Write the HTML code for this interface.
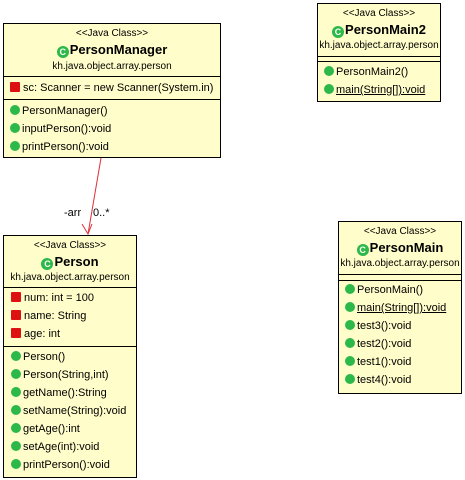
<!DOCTYPE html>
<html><head><meta charset="utf-8"><style>
body{margin:0;width:465px;height:480px;background:#fff;position:relative;overflow:hidden;font-family:"Liberation Sans",Arial,sans-serif;font-size:11px;color:#000}
.box{position:absolute;background:#fffdc9;border:1px solid #000;box-sizing:border-box}
.hr{position:absolute;left:0;right:0;border-top:1px solid #000}
.t{position:absolute;white-space:nowrap;line-height:13px}
.c{left:0;right:0;text-align:center}
.sm{font-size:10px}
.nm{font-weight:bold;font-size:13px;line-height:15px}
.ci{display:inline-block;width:12px;height:12px;border-radius:50%;background:#2db84a;color:#fff;font-size:9px;line-height:12px;text-align:center;vertical-align:-1px;margin-right:1px;font-weight:bold}
.g{display:inline-block;width:10px;height:10px;border-radius:50%;background:#2db84a;vertical-align:-1px;margin-right:2px}
.r{display:inline-block;width:10px;height:10px;background:#d11;vertical-align:-1px;margin-right:3px;border-radius:1px}
.u{text-decoration:underline}
</style></head><body>

<!-- PersonManager -->
<div class="box" style="left:3px;top:23px;width:218px;height:135px">
 <div class="t c sm" style="top:3px">&lt;&lt;Java Class&gt;&gt;</div>
 <div class="t c nm" style="top:18px"><span class="ci">C</span>PersonManager</div>
 <div class="t c sm" style="top:36px">kh.java.object.array.person</div>
 <div class="hr" style="top:52px"></div>
 <div class="t" style="left:6px;top:58px;font-size:11px"><span class="r"></span>sc: Scanner = new Scanner(System.in)</div>
 <div class="hr" style="top:75px"></div>
 <div class="t" style="left:6px;top:81px"><span class="g"></span>PersonManager()</div>
 <div class="t" style="left:6px;top:99px"><span class="g"></span>inputPerson():void</div>
 <div class="t" style="left:6px;top:117px"><span class="g"></span>printPerson():void</div>
</div>

<!-- Person -->
<div class="box" style="left:3px;top:235px;width:134px;height:243px">
 <div class="t c sm" style="top:3px">&lt;&lt;Java Class&gt;&gt;</div>
 <div class="t c nm" style="top:18px"><span class="ci">C</span>Person</div>
 <div class="t c sm" style="top:35px">kh.java.object.array.person</div>
 <div class="hr" style="top:51px"></div>
 <div class="t" style="left:7px;top:56px"><span class="r"></span>num: int = 100</div>
 <div class="t" style="left:7px;top:74px"><span class="r"></span>name: String</div>
 <div class="t" style="left:7px;top:92px"><span class="r"></span>age: int</div>
 <div class="hr" style="top:110px"></div>
 <div class="t" style="left:7px;top:115px"><span class="g"></span>Person()</div>
 <div class="t" style="left:7px;top:133px"><span class="g"></span>Person(String,int)</div>
 <div class="t" style="left:7px;top:151px"><span class="g"></span>getName():String</div>
 <div class="t" style="left:7px;top:169px"><span class="g"></span>setName(String):void</div>
 <div class="t" style="left:7px;top:187px"><span class="g"></span>getAge():int</div>
 <div class="t" style="left:7px;top:205px"><span class="g"></span>setAge(int):void</div>
 <div class="t" style="left:7px;top:223px"><span class="g"></span>printPerson():void</div>
</div>

<!-- PersonMain2 -->
<div class="box" style="left:317px;top:3px;width:124px;height:99px">
 <div class="t c sm" style="top:3px">&lt;&lt;Java Class&gt;&gt;</div>
 <div class="t c nm" style="top:18px"><span class="ci">C</span>PersonMain2</div>
 <div class="t c sm" style="top:35px">kh.java.object.array.person</div>
 <div class="hr" style="top:52px"></div>
 <div class="hr" style="top:57px"></div>
 <div class="t" style="left:6px;top:62px"><span class="g"></span>PersonMain2()</div>
 <div class="t" style="left:6px;top:80px"><span class="g"></span><span class="u">main(String[]):void</span></div>
</div>

<!-- PersonMain -->
<div class="box" style="left:338px;top:221px;width:124px;height:173px">
 <div class="t c sm" style="top:3px">&lt;&lt;Java Class&gt;&gt;</div>
 <div class="t c nm" style="top:18px"><span class="ci">C</span>PersonMain</div>
 <div class="t c sm" style="top:35px">kh.java.object.array.person</div>
 <div class="hr" style="top:52px"></div>
 <div class="hr" style="top:58px"></div>
 <div class="t" style="left:6px;top:62px"><span class="g"></span>PersonMain()</div>
 <div class="t" style="left:6px;top:80px"><span class="g"></span><span class="u">main(String[]):void</span></div>
 <div class="t" style="left:6px;top:98px"><span class="g"></span>test3():void</div>
 <div class="t" style="left:6px;top:116px"><span class="g"></span>test2():void</div>
 <div class="t" style="left:6px;top:134px"><span class="g"></span>test1():void</div>
 <div class="t" style="left:6px;top:152px"><span class="g"></span>test4():void</div>
</div>

<svg style="position:absolute;left:0;top:0" width="465" height="480">
 <line x1="101" y1="158" x2="88" y2="234" stroke="#e0303a" stroke-width="1"/>
 <polyline points="82,224 88,234 92,224" fill="none" stroke="#e0303a" stroke-width="1"/>
</svg>
<div class="t" style="left:64px;top:207px">-arr</div>
<div class="t" style="left:93px;top:207px">0..*</div>
</body></html>
